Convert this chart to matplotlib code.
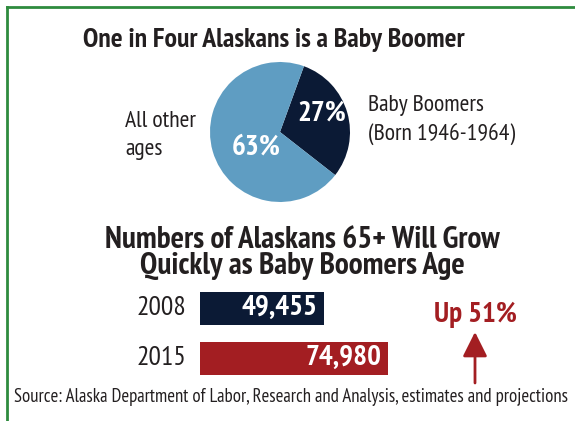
import matplotlib.pyplot as plt

# pie data (share of Alaskans, %)
pie_labels = ["Baby Boomers", "All other ages"]
pie_values = [27, 63]
pie_colors = ["#0b1a35", "#5f9dc2"]

# bar data
years = ["2008", "2015"]
seniors = [49455, 74980]
bar_colors = ["#0b1a35", "#a31e22"]
growth = "Up 51%"

W, H = 575, 421
fig = plt.figure(figsize=(W / 100, H / 100), dpi=100)
fn = ["PT Sans Narrow", "Roboto Condensed", "DejaVu Sans"]
dark = "#231f20"
red = "#a31e22"


def fx(px):
    return px / W


def fy(py):
    return 1 - py / H


# green frame on left and top
fig.add_artist(plt.Line2D([fx(7), fx(7)], [fy(7), 0], color="#2e8b3e", lw=2))
fig.add_artist(plt.Line2D([fx(7), 1], [fy(7), fy(7)], color="#2e8b3e", lw=2))

fig.text(fx(274), fy(47), "One in Four Alaskans is a Baby Boomer", family=fn,
         weight="bold", size=20, color=dark, ha="center", va="baseline")

# pie
r = 70
cx, cy = 280, 132
ax = fig.add_axes([fx(cx - r), fy(cy + r), 2 * r / W, 2 * r / H])
ax.pie(pie_values, colors=pie_colors, startangle=70, counterclock=False, radius=1)
ax.set_xlim(-1, 1)
ax.set_ylim(-1, 1)
ax.set_aspect("auto")
ax.axis("off")
fig.text(fx(322), fy(121), f"{pie_values[0]}%", family=fn, weight="bold", size=21,
         color="white", ha="center", va="baseline")
fig.text(fx(256), fy(155), f"{pie_values[1]}%", family=fn, weight="bold", size=21,
         color="white", ha="center", va="baseline")
fig.text(fx(368), fy(111), "Baby Boomers", family=fn, size=17, color=dark,
         ha="left", va="baseline")
fig.text(fx(368), fy(141), "(Born 1946-1964)", family=fn, size=17, color=dark,
         ha="left", va="baseline")
fig.text(fx(125), fy(127), "All other", family=fn, size=17, color=dark,
         ha="left", va="baseline")
fig.text(fx(125), fy(155), "ages", family=fn, size=17, color=dark,
         ha="left", va="baseline")

fig.text(fx(302), fy(253), "Numbers of Alaskans 65+ Will Grow\nQuickly as Baby Boomers Age",
         family=fn, weight="bold", size=22.5, color=dark, ha="center", va="center",
         linespacing=0.87)

# bars
x0, x1 = 200, 388
bx = fig.add_axes([fx(x0), fy(383), (W - x0) / W, (383 - 283) / H])
bx.set_xlim(0, seniors[1] * (W - x0) / (x1 - x0))
bx.set_ylim(-0.5, 1.5)
bx.invert_yaxis()
bx.barh(range(len(years)), seniors, color=bar_colors, height=0.66)
for i, v in enumerate(seniors):
    bx.text(v - 2500, i, f"{v:,}", family=fn, weight="bold", size=21, color="white",
            ha="right", va="center")
    bx.text(-5500, i, years[i], family=fn, size=20, color=dark, ha="right", va="center")
bx.axis("off")

fig.text(fx(475), fy(322), growth, family=fn, weight="bold", size=21, color=red,
         ha="center", va="baseline")
fig.add_artist(plt.Annotation("", xy=(fx(475), fy(332)), xytext=(fx(475), fy(383)),
                              xycoords="figure fraction",
                              arrowprops=dict(arrowstyle="-|>,head_length=1.5,head_width=0.75",
                                              color=red, lw=2, shrinkA=0, shrinkB=0)))

fig.text(fx(14), fy(397), "Source: Alaska Department of Labor, Research and Analysis, estimates and projections",
         family=fn, size=13.5, color=dark, ha="left", va="center")

fig.savefig("out.png", dpi=100)
